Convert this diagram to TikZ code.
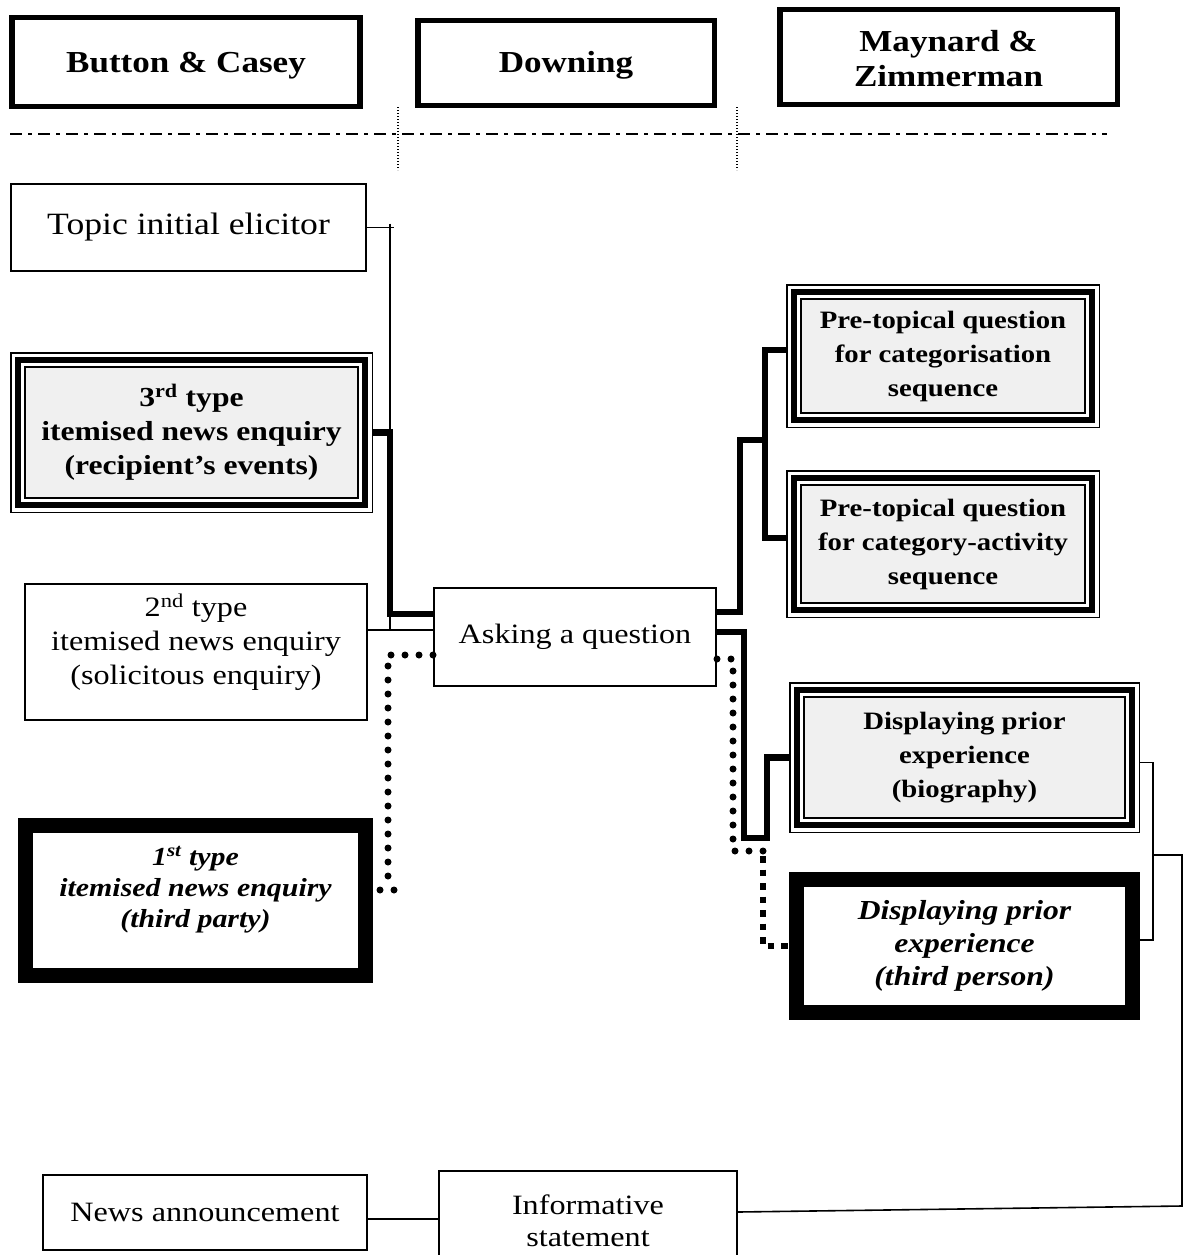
\documentclass[tikz,border=0pt]{standalone}
\usepackage{fontspec}
\setmainfont{Liberation Serif}[FakeStretch=1.15]
\definecolor{boxgray}{HTML}{F0F0F0}
\begin{document}
\begin{tikzpicture}[x=1pt,y=-1pt,
  hdr/.style={draw, line width=5.5pt, inner sep=0pt},
  hdrtext/.style={inner sep=0pt, align=center,
    font=\bfseries\fontsize{30.5pt}{35pt}\selectfont},
  plain/.style={draw, line width=2pt, inner sep=0pt, align=center},
  heavy/.style={draw, line width=15pt, inner sep=0pt, align=center},
  tribox/.style={draw, line width=1.5pt, inner sep=0pt, align=center,
    path picture={
      \draw[line width=6pt]
        ([shift={(7pt,-7pt)}]path picture bounding box.north west) rectangle
        ([shift={(-7pt,7pt)}]path picture bounding box.south east);
      \draw[line width=2pt, fill=boxgray]
        ([shift={(14pt,-14pt)}]path picture bounding box.north west) rectangle
        ([shift={(-14pt,14pt)}]path picture bounding box.south east);
    }},
  reg/.style={font=\fontsize{28pt}{34pt}\selectfont},
  boldl/.style={font=\bfseries\fontsize{27.5pt}{34pt}\selectfont},
  boldr/.style={font=\bfseries\fontsize{25pt}{34pt}\selectfont},
  txt/.style={inner sep=0pt, align=center},
  thinln/.style={line width=1.6pt},
  tree/.style={line width=6.5pt, line join=miter},
  rdots/.style={line width=7pt, line cap=round, dash pattern=on 0pt off 14pt},
  sqdots/.style={line width=6.5pt, dash pattern=on 6.5pt off 7pt},
  dashdot/.style={line width=2.5pt, dash pattern=on 12pt off 6pt on 4pt off 6pt},
  vdots/.style={line width=1.2pt, dash pattern=on 1.2pt off 1.8pt}
]
\useasboundingbox (0,0) rectangle (1187,1255);
\clip (0,0) rectangle (1187,1255);
\fill[white] (0,0) rectangle (1187,1255);

% column headings
\node[hdr, minimum width=348pt, minimum height=88.5pt] (bc) at (186,62) {};
\node[hdrtext] (bc-t) at (186,66) {Button \& Casey};
\node[hdr, minimum width=296.5pt, minimum height=84.5pt] (dw) at (566,63) {};
\node[hdrtext] (dw-t) at (566,65) {Downing};
\node[hdr, minimum width=337.5pt, minimum height=94.5pt] (mz) at (948.5,57) {};
\node[hdrtext] (mz-t) at (948.5,59) {Maynard \&\\Zimmerman};

% separators under the headings
\draw[dashdot] (10,134) -- (1107,134);
\draw[vdots] (398,107) -- (398,170);
\draw[vdots] (737,107) -- (737,170);

% left column
\node[plain, font=\fontsize{31pt}{34pt}\selectfont, minimum width=355pt, minimum height=87pt] (topic) at (188.5,227.5) {Topic initial elicitor};
\node[tribox, boldl, minimum width=361.5pt, minimum height=159.5pt] (third) at (191.5,432.5)
  {3\textsuperscript{rd} type\\itemised news enquiry\\(recipient’s events)};
\node[plain, minimum width=342pt, minimum height=136pt] (sec) at (196,652) {};
\node[txt, reg] (sec-t) at (196,642) {2\textsuperscript{nd} type\\itemised news enquiry\\(solicitous enquiry)};
\node[heavy, minimum width=340pt, minimum height=150pt] (first) at (195.5,900.5) {};
\node[txt, font=\bfseries\itshape\fontsize{26pt}{31pt}\selectfont] (first-t) at (195.5,890)
  {1\textsuperscript{st} type\\itemised news enquiry\\(third party)};
\node[plain, reg, minimum width=324pt, minimum height=75pt] (news) at (205,1212) {News announcement};

% centre column
\node[plain, reg, minimum width=282pt, minimum height=98pt] (ask) at (575,637) {Asking a question};
\node[plain, font=\fontsize{28pt}{32pt}\selectfont, minimum width=298pt, minimum height=100pt] (info) at (588,1221)
  {Informative\\statement};

% right column
\node[tribox, boldr, minimum width=312.5pt, minimum height=142.5pt] (cat1) at (943,356)
  {Pre-topical question\\for categorisation\\sequence};
\node[tribox, boldr, minimum width=312.5pt, minimum height=146.5pt] (cat2) at (943,544)
  {Pre-topical question\\for category-activity\\sequence};
\node[tribox, boldr, minimum width=349.5pt, minimum height=149.5pt] (bio) at (964.5,757.5)
  {Displaying prior\\experience\\(biography)};
\node[heavy, font=\bfseries\itshape\fontsize{27.5pt}{33pt}\selectfont, minimum width=336pt, minimum height=133pt] (tp) at (964.5,946)
  {Displaying prior\\experience\\(third person)};

% junction points
\coordinate (lj) at (390,630);
\coordinate (ld) at (394,890);
\coordinate (dj) at (767,851);
\coordinate (sj) at (763,856);
\coordinate (bj) at (1153,855);

% left links into "Asking a question"
\draw[thinln] (topic.east) -- ++(27pt,0);
\draw[thinln] ([yshift=4pt]lj |- topic.east) -- (lj);
\draw[thinln] (sec.east |- lj) -- (ask.west |- lj);
\draw[tree] (third.east) -- ++(17pt,0) |- ([yshift=23pt]ask.west);
\draw[rdots] ([yshift=-18pt]ask.west) -| (388,890);
\draw[rdots] (ld) -- ++(-17pt,0);

% right links out of "Asking a question"
\draw[tree] ([yshift=25pt]ask.east) -| (740,440) -- (765,440);
\draw[tree] ([yshift=6pt]cat1.west) -- ++(-21pt,0) |- ([yshift=6pt]cat2.west);
\draw[tree] ([yshift=5pt]ask.east) -| (744,838) -- (767,838) |- (bio.west);
\draw[rdots] ([yshift=-22pt]ask.east) -| (733,851) -- (dj);
\draw[sqdots] (sj) |- (tp.west);

% bracket joining the two "Displaying prior experience" boxes
\draw[thinln] ([yshift=-5pt]bio.east) -| (1153,940) -- ([yshift=6pt]tp.east);
\draw[thinln] (bj) -| (1182,1206) -- ([yshift=9pt]info.east);

% bottom row
\draw[thinln] ([yshift=-7pt]news.east) -- ([yshift=2pt]info.west);
\end{tikzpicture}
\end{document}
